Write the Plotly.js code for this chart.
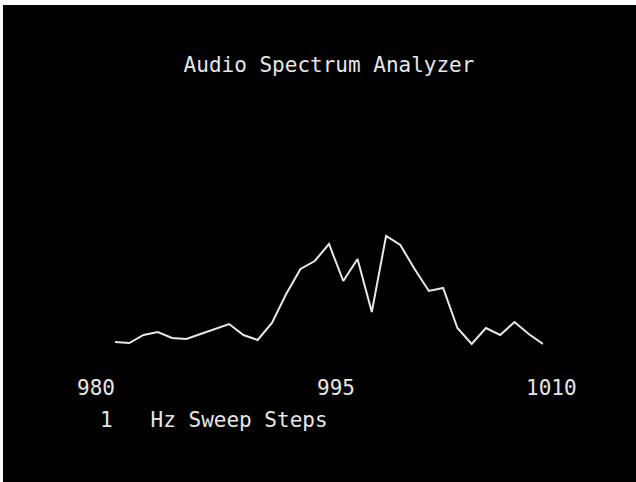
<!DOCTYPE html>
<html>
<head>
<meta charset="utf-8">
<script src="https://cdn.plot.ly/plotly-3.0.1.min.js"></script>
<style>
html,body{margin:0;padding:0;background:#ffffff;}
#wrap{position:absolute;left:0;top:0;width:636px;height:482px;box-sizing:border-box;border-top:5px solid #fff;border-left:3px solid #fff;background:#000;}
#chart{width:633px;height:477px;}
</style>
</head>
<body>
<div id="wrap"><div id="chart"></div></div>
<script>
// Sweep frequencies (Hz), 1 Hz steps
const freqs = [980,981,982,983,984,985,986,987,988,989,990,991,992,993,994,995,996,997,998,999,1000,1001,1002,1003,1004,1005,1006,1007,1008,1009,1010];
// Relative amplitude
const amplitude = [18,17,25,28,22,21,26,31,36,25,20,37,66,91,99,116,79,101,48,124,115,91,69,72,32,16,32,25,38,26,16];
// Axis labels
const tickValues = [980, 995, 1010];
const tickLabels = ["980", "995", "1010"];
const tickShift = [-19, 7, 8];
const titleText = "Audio Spectrum Analyzer";
const footerText = "1\u00a0\u00a0\u00a0Hz Sweep Steps";

const fontFam = "DejaVu Sans Mono, monospace";
const txtColor = "#e6e6e6";

const trace = {
  x: freqs, y: amplitude, type: "scatter", mode: "lines",
  line: {color: "#e8e8e8", width: 2},
  hoverinfo: "skip"
};

const annotations = tickValues.map((v, i) => ({
  x: v, y: -0.108, xref: "x", yref: "paper", text: tickLabels[i],
  showarrow: false, xanchor: "center", yanchor: "middle", xshift: tickShift[i],
  font: {family: fontFam, size: 21, color: txtColor}
}));
annotations.push({
  x: tickValues[0], y: -0.231, xref: "x", yref: "paper", text: footerText,
  showarrow: false, xanchor: "left", yanchor: "middle", xshift: -17,
  font: {family: fontFam, size: 21, color: txtColor}
});

const layout = {
  width: 633, height: 477,
  paper_bgcolor: "#000", plot_bgcolor: "#000",
  margin: {l: 112, r: 93, t: 95, b: 122},
  showlegend: false,
  title: {text: titleText, x: 0.5, xref: "paper", y: 1 - 60/477, yref: "container",
          xanchor: "center", yanchor: "middle",
          font: {family: fontFam, size: 21, color: txtColor}},
  xaxis: {range: [980, 1010], visible: false, showgrid: false, zeroline: false},
  yaxis: {range: [0, 260], visible: false, showgrid: false, zeroline: false},
  annotations: annotations
};

Plotly.newPlot("chart", [trace], layout, {displayModeBar: false, staticPlot: true});
</script>
</body>
</html>
